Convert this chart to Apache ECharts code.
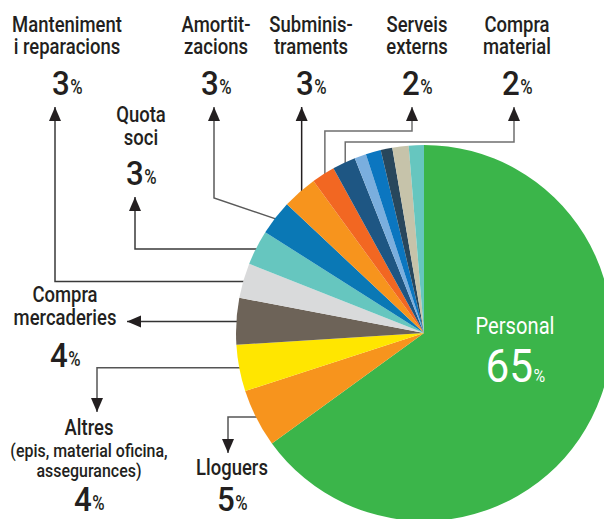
<!DOCTYPE html>
<html>
<head>
<meta charset="utf-8">
<script src="https://cdn.jsdelivr.net/npm/echarts@6/dist/echarts.min.js"></script>
<style>
  html, body { margin: 0; padding: 0; background: #ffffff; }
  #chart { width: 604px; height: 519px; }
</style>
</head>
<body>
<div id="chart"></div>
<script>
// Distribució de despeses, en percentatge
const categories = [
  'Personal', 'Lloguers', 'Altres', 'Compra mercaderies',
  'Manteniment i reparacions', 'Quota soci', 'Amortitzacions',
  'Subministraments', 'Serveis externs', 'Compra material',
  'Resta 1', 'Resta 2', 'Resta 3', 'Resta 4', 'Resta 5'
];
const values = [65, 5, 4, 4, 3, 3, 3, 3, 2, 2, 1.0, 1.3, 1.0, 1.4, 1.3];
const colors = [
  '#3bb54a', '#f7941d', '#ffe600', '#6d6358', '#d9dadb', '#66c6bf',
  '#0a78b5', '#f7941d', '#f26722', '#1e5683', '#7aaede', '#0b76c0',
  '#28475c', '#c6c3aa', '#66c6bf'
];
// Text lines shown next to each labelled slice
const nameLines = {
  'Personal': ['Personal'],
  'Lloguers': ['Lloguers'],
  'Altres': ['Altres'],
  'Compra mercaderies': ['Compra', 'mercaderies'],
  'Manteniment i reparacions': ['Manteniment', 'i reparacions'],
  'Quota soci': ['Quota', 'soci'],
  'Amortitzacions': ['Amortit-', 'zacions'],
  'Subministraments': ['Subminis-', 'traments'],
  'Serveis externs': ['Serveis', 'externs'],
  'Compra material': ['Compra', 'material']
};
const noteLines = {
  'Altres': ['(epis, material oficina,', 'assegurances)']
};

const FONT = 'Roboto, "Liberation Sans", sans-serif';
const NAME_WEIGHT = 500;
const NARROW = 0.84;      // horizontal squeeze for a condensed look
const NUM_NARROW = 0.92;
const INK = '#231f20';
const CX = 424, CY = 333, R = 188;

const chart = echarts.init(document.getElementById('chart'), null, { renderer: 'svg' });

// Mid angle of each slice, clockwise from 12 o'clock
const total = values.reduce((a, b) => a + b, 0);
const midAngle = [];
let acc = 0;
values.forEach(v => { midAngle.push((acc + v / 2) / total * Math.PI * 2); acc += v; });
function edgePoint(name, inset) {
  const a = midAngle[categories.indexOf(name)];
  const r = R - (inset || 0);
  return [CX + r * Math.sin(a), CY - r * Math.cos(a)];
}

// Label placement: text centre x, baselines, and leader routing
const labelLayout = [
  { name: 'Manteniment i reparacions', x: 67, base: [32, 54], num: 95, color: '#3a3a3a',
    route: p => [p, [55, p[1]], [55, 107]], dir: 'up' },
  { name: 'Quota soci', x: 141, base: [122, 145], num: 185, color: '#3a3a3a',
    route: p => [p, [135, p[1]], [135, 197]], dir: 'up' },
  { name: 'Amortitzacions', x: 216, base: [32, 54], num: 95, color: '#5a5a5a',
    route: p => [p, [214, 198], [214, 107]], dir: 'up' },
  { name: 'Subministraments', x: 311, base: [32, 54], num: 95, color: '#231f20',
    route: p => [p, [p[0], 107]], dir: 'up' },
  { name: 'Serveis externs', x: 417, base: [32, 54], num: 95, color: '#6f6f6f',
    route: p => [p, [p[0], 131], [412, 131], [412, 107]], dir: 'up' },
  { name: 'Compra material', x: 517, base: [32, 54], num: 95, color: '#6f6f6f',
    route: p => [p, [p[0], 142], [514, 142], [514, 107]], dir: 'up' },
  { name: 'Compra mercaderies', x: 65, base: [302, 325], num: 367, color: '#333333',
    route: p => [p, [127, p[1]]], dir: 'left' },
  { name: 'Altres', x: 89, base: [435], notes: [457, 477], num: 511, color: '#555555',
    route: p => [p, [97, p[1]], [97, 412]], dir: 'down' },
  { name: 'Lloguers', x: 232, base: [475], num: 511, color: '#555555',
    route: p => [p, [228, p[1]], [228, 453]], dir: 'down' }
];

const measureCtx = document.createElement('canvas').getContext('2d');
function textWidth(str, size, weight, squeeze) {
  measureCtx.font = weight + ' ' + size + 'px ' + FONT;
  return measureCtx.measureText(str).width * squeeze;
}
function textEl(x, baseline, str, size, color, align, weight, squeeze) {
  return {
    type: 'text', z: 10, silent: true,
    x: x, y: baseline - size * 0.35,
    scaleX: squeeze || NARROW,
    style: {
      text: str, x: 0, y: 0,
      fill: color, fontSize: size, fontFamily: FONT, fontWeight: weight || NAME_WEIGHT,
      align: align || 'center', verticalAlign: 'middle'
    }
  };
}
function percentEls(cx, baseline, value, dSize, pSize, color, weight) {
  const d = String(value);
  const wd = textWidth(d, dSize, weight, NUM_NARROW);
  const wp = textWidth('%', pSize, weight, NARROW);
  const split = cx - (wd + wp) / 2 + wd;
  return [
    textEl(split, baseline, d, dSize, color, 'right', weight, NUM_NARROW),
    textEl(split + 0.5, baseline, '%', pSize, color, 'left', weight, NARROW)
  ];
}
function arrowHead(tip, dir) {
  const w = 6, h = 14;
  let pts;
  if (dir === 'up') pts = [tip, [tip[0] - w, tip[1] + h], [tip[0] + w, tip[1] + h]];
  else if (dir === 'down') pts = [tip, [tip[0] - w, tip[1] - h], [tip[0] + w, tip[1] - h]];
  else pts = [tip, [tip[0] + h, tip[1] - w], [tip[0] + h, tip[1] + w]];
  return { type: 'polygon', z: 10, silent: true, shape: { points: pts }, style: { fill: INK } };
}

const graphics = [];
labelLayout.forEach(L => {
  const idx = categories.indexOf(L.name);
  const p = edgePoint(L.name, 3);
  const pts = L.route(p);
  graphics.push({
    type: 'polyline', z: 1, silent: true,
    shape: { points: pts },
    style: { stroke: L.color, lineWidth: 1.5, fill: null }
  });
  graphics.push(arrowHead(pts[pts.length - 1], L.dir));
  nameLines[L.name].forEach((s, k) => graphics.push(textEl(L.x, L.base[k], s, 22, INK)));
  if (L.notes) {
    noteLines[L.name].forEach((s, k) => graphics.push(textEl(L.x, L.notes[k], s, 19, INK)));
  }
  percentEls(L.x, L.num, values[idx], 34, 20, INK, 500).forEach(e => graphics.push(e));
});
// Label inside the largest slice
graphics.push(textEl(515, 334, nameLines['Personal'][0], 24, '#ffffff', 'center', 400));
percentEls(515, 382, values[0], 46, 19, '#ffffff', 400).forEach(e => graphics.push(e));

chart.setOption({
  animation: false,
  graphic: { elements: graphics },
  series: [{
    type: 'pie',
    z: 5,
    silent: true,
    center: [CX, CY],
    radius: R,
    startAngle: 90,
    clockwise: true,
    avoidLabelOverlap: false,
    label: { show: false },
    labelLine: { show: false },
    itemStyle: { borderWidth: 0 },
    data: categories.map((c, i) => ({ name: c, value: values[i], itemStyle: { color: colors[i] } }))
  }]
});
</script>
</body>
</html>
